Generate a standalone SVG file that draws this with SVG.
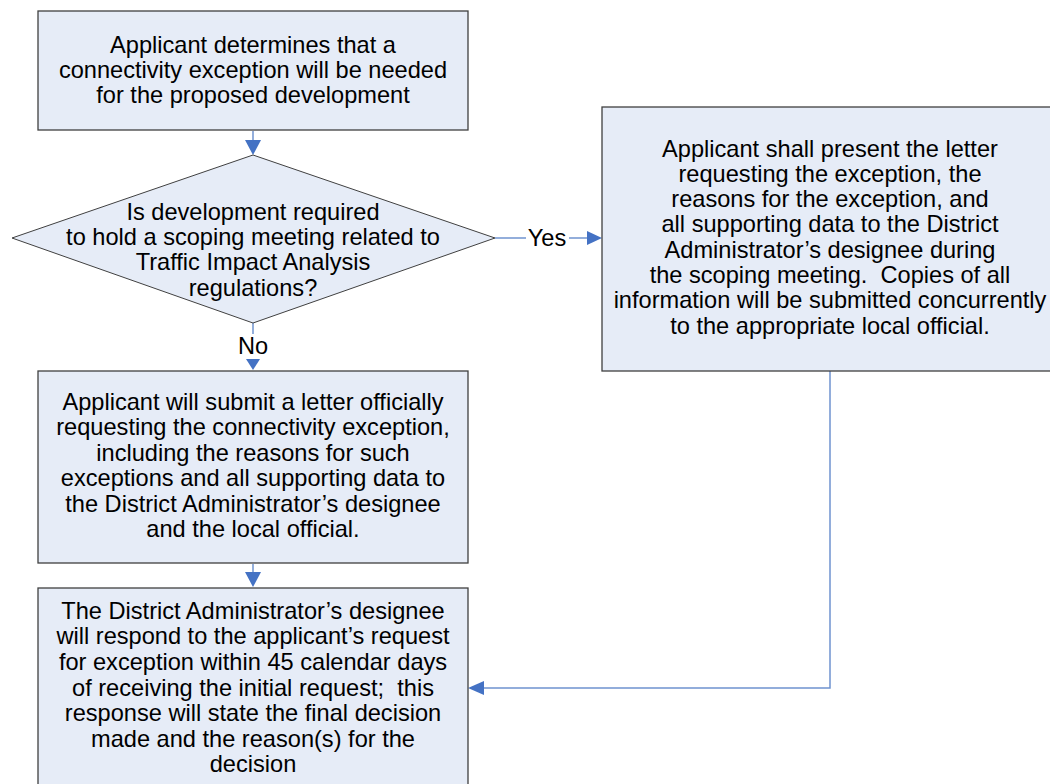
<svg xmlns="http://www.w3.org/2000/svg" width="1050" height="784" viewBox="0 0 1050 784">
  <style>
    .box { fill: #E6ECF7; stroke: #404040; stroke-width: 1.3; }
    .lbl { font-family: "Liberation Sans", Arial, sans-serif; font-size: 23.6px; fill: #000; text-anchor: middle; }
    .wire { fill: none; stroke: #6F93CF; stroke-width: 1.5; }
    .head { fill: #4472C4; }
  </style>

  <rect width="1050" height="784" fill="#FFFFFF"/>

  <!-- connectors -->
  <g id="connectors">
    <!-- start box to decision -->
    <line class="wire" x1="253" y1="131" x2="253" y2="142"/>
    <polygon class="head" points="245,140 261,140 253,155"/>
    <!-- decision: No -->
    <line class="wire" x1="253" y1="323" x2="253" y2="334"/>
    <text class="lbl" x="253" y="354">No</text>
    <polygon class="head" points="246,359 260,359 253,370"/>
    <!-- decision: Yes -->
    <line class="wire" x1="495" y1="238" x2="526" y2="238"/>
    <text class="lbl" x="547" y="246">Yes</text>
    <line class="wire" x1="569" y1="238" x2="589" y2="238"/>
    <polygon class="head" points="587,231 587,245 602,238"/>
    <!-- letter box to response -->
    <line class="wire" x1="253" y1="564" x2="253" y2="574"/>
    <polygon class="head" points="245,572 261,572 253,587"/>
    <!-- scoping-meeting box to response -->
    <polyline class="wire" points="830,371 830,688 482,688"/>
    <polygon class="head" points="484,681 484,695 468,688"/>
  </g>

  <!-- start -->
  <g id="start">
    <rect class="box" x="38" y="11" width="430" height="119"/>
    <text class="lbl" x="253" y="53">Applicant determines that a</text>
    <text class="lbl" x="253" y="78">connectivity exception will be needed</text>
    <text class="lbl" x="253" y="103">for the proposed development</text>
  </g>

  <!-- decision -->
  <g id="decision">
    <polygon class="box" points="253,155 495,238 253,323 12,238" style="stroke-width:1"/>
    <text class="lbl" x="253" y="220">Is development required</text>
    <text class="lbl" x="253" y="245">to hold a scoping meeting related to</text>
    <text class="lbl" x="253" y="270">Traffic Impact Analysis</text>
    <text class="lbl" x="253" y="296">regulations?</text>
  </g>

  <!-- scoping meeting -->
  <g id="scoping">
    <rect class="box" x="602" y="107" width="460" height="264"/>
    <text class="lbl" x="830" y="157">Applicant shall present the letter</text>
    <text class="lbl" x="830" y="182">requesting the exception, the</text>
    <text class="lbl" x="830" y="207">reasons for the exception, and</text>
    <text class="lbl" x="830" y="232">all supporting data to the District</text>
    <text class="lbl" x="830" y="258">Administrator’s designee during</text>
    <text class="lbl" x="830" y="283" xml:space="preserve">the scoping meeting.  Copies of all</text>
    <text class="lbl" x="830" y="308">information will be submitted concurrently</text>
    <text class="lbl" x="830" y="334">to the appropriate local official.</text>
  </g>

  <!-- letter -->
  <g id="letter">
    <rect class="box" x="38" y="371" width="430" height="192"/>
    <text class="lbl" x="253" y="410">Applicant will submit a letter officially</text>
    <text class="lbl" x="253" y="435">requesting the connectivity exception,</text>
    <text class="lbl" x="253" y="461">including the reasons for such</text>
    <text class="lbl" x="253" y="486">exceptions and all supporting data to</text>
    <text class="lbl" x="253" y="512">the District Administrator’s designee</text>
    <text class="lbl" x="253" y="537">and the local official.</text>
  </g>

  <!-- response -->
  <g id="response">
    <rect class="box" x="38" y="588" width="430" height="210"/>
    <text class="lbl" x="253" y="619">The District Administrator’s designee</text>
    <text class="lbl" x="253" y="644">will respond to the applicant’s request</text>
    <text class="lbl" x="253" y="670">for exception within 45 calendar days</text>
    <text class="lbl" x="253" y="696" xml:space="preserve">of receiving the initial request;  this</text>
    <text class="lbl" x="253" y="721">response will state the final decision</text>
    <text class="lbl" x="253" y="747">made and the reason(s) for the</text>
    <text class="lbl" x="253" y="772">decision</text>
  </g>
</svg>
